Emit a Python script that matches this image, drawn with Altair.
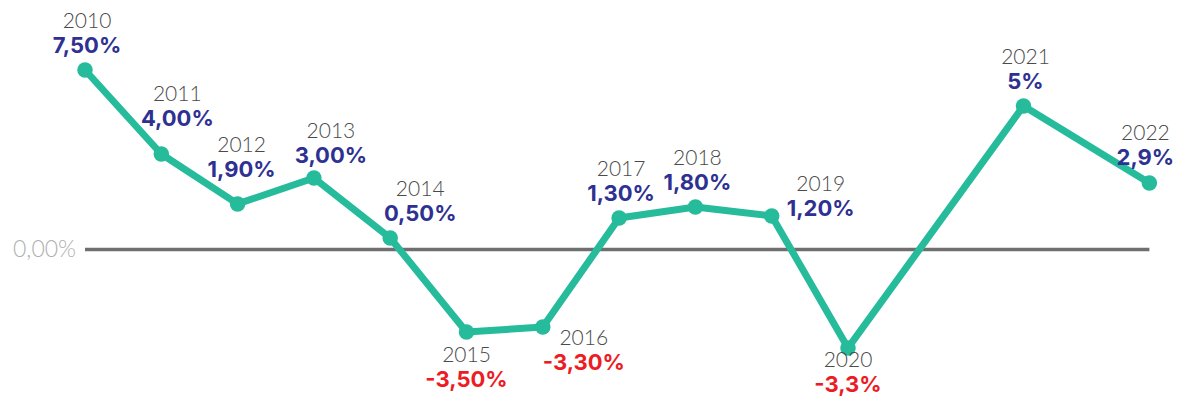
import altair as alt
import pandas as pd

# ---- data ----
years = ["2010", "2011", "2012", "2013", "2014", "2015", "2016",
         "2017", "2018", "2019", "2020", "2021", "2022"]
# horizontal slot of each year along the axis (the picture leaves a gap before 2021)
slots = [0, 1, 2, 3, 4, 5, 6, 7, 8, 9, 10, 12.3, 13.95]
# plotted values (as positioned in the picture)
values = [7.48, 3.98, 1.9, 2.98, 0.48, -3.44, -3.23, 1.31, 1.77, 1.4, -4.1, 5.98, 2.77]
# printed value labels
labels = ["7,50%", "4,00%", "1,90%", "3,00%", "0,50%", "-3,50%", "-3,30%",
          "1,30%", "1,80%", "1,20%", "-3,3%", "5%", "2,9%"]
# where each label sits relative to its point
placement = ["top", "upper_right", "upper", "top_right", "top_far_right", "bottom",
             "bottom_right", "top", "top", "right", "bottom_tight", "top", "top_edge"]

df = pd.DataFrame({"year": years, "slot": slots, "value": values,
                   "label": labels, "place": placement})
df["neg"] = df["label"].str.startswith("-")

zero_df = pd.DataFrame({"start": [min(slots)], "end": [max(slots)], "zero": [0.0],
                        "text": ["0,00%"]})

# ---- styling ----
TEAL = "#26bb9b"
BLUE = "#2e3192"
RED = "#ed1c24"
YEAR_C = "#4a4a4a"
FONT = "Inter"
LIGHT = "Lato"

offsets = {  # (dx, dy of value label centre)
    "top": (2, -24),
    "top_edge": (-4, -25),
    "upper": (4, -34),
    "upper_right": (16, -35),
    "top_right": (17, -22),
    "top_far_right": (30, -24),
    "right": (49, -7),
    "bottom": (0, 48),
    "bottom_tight": (0, 37),
    "bottom_right": (41, 36),
}

W, H = 1167, 388
PX_PER_SLOT = 76.3
PX_PER_PCT = 24.0
x0 = -77 / PX_PER_SLOT
xs = alt.Scale(domain=[x0, x0 + W / PX_PER_SLOT], nice=False, zero=False)
ytop = 241.5 / PX_PER_PCT
ys = alt.Scale(domain=[ytop - H / PX_PER_PCT, ytop], nice=False, zero=False)
x = alt.X("slot:Q", scale=xs, axis=None)
y = alt.Y("value:Q", scale=ys, axis=None)

zero_rule = alt.Chart(zero_df).mark_rule(color="#6f6f6f", strokeWidth=3.5).encode(
    x=alt.X("start:Q", scale=xs, axis=None),
    x2="end:Q",
    y=alt.Y("zero:Q", scale=ys, axis=None),
)
zero_label = alt.Chart(zero_df).mark_text(align="right", baseline="middle", dx=-9, font=LIGHT,
                                          fontSize=23, fontWeight=300, color="#b0b0b0").encode(
    x=alt.X("start:Q", scale=xs, axis=None),
    y=alt.Y("zero:Q", scale=ys, axis=None),
    text="text:N",
)

base = alt.Chart(df)
line = base.mark_line(color=TEAL, strokeWidth=7, strokeJoin="round").encode(x=x, y=y)
points = base.mark_circle(color=TEAL, size=240, opacity=1).encode(x=x, y=y)

layers = [zero_rule, zero_label, line, points]
for place, (dx, dy) in offsets.items():
    sub = base.transform_filter(alt.datum.place == place)
    layers.append(sub.mark_text(align="center", baseline="middle", dx=dx, dy=dy,
                                font=FONT, fontSize=22, fontWeight="bold").encode(
        x=x, y=y, text="label:N",
        color=alt.condition(alt.datum.neg, alt.value(RED), alt.value(BLUE)),
    ))
    layers.append(sub.mark_text(align="center", baseline="middle", dx=dx, dy=dy - 24,
                                font=LIGHT, fontSize=21, fontWeight=300, color=YEAR_C).encode(
        x=x, y=y, text="year:N",
    ))

chart = alt.layer(*layers).properties(
    width=W, height=H, padding=0,
    autosize=alt.AutoSizeParams(type="none"),
).configure_view(stroke=None)

chart.save("out.html", embed_options={"renderer": "svg", "actions": False})
